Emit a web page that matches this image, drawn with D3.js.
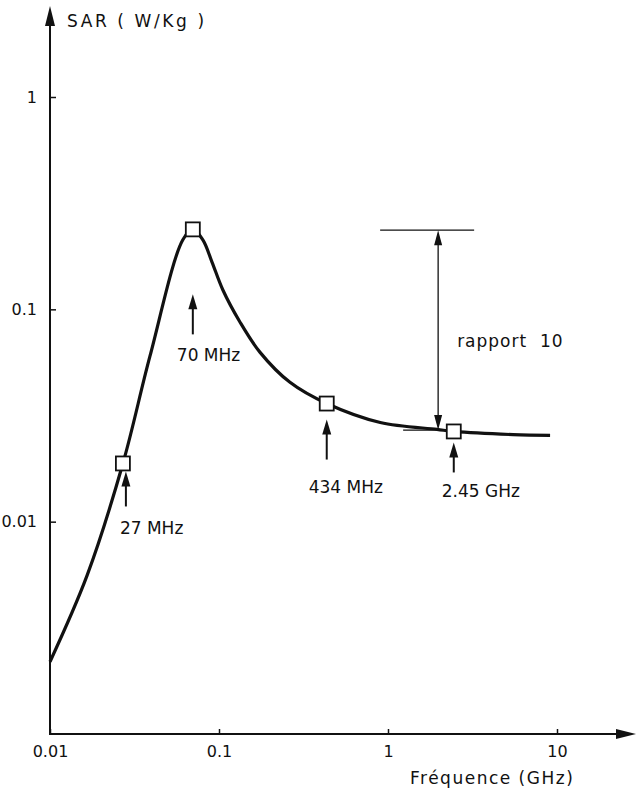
<!DOCTYPE html>
<html>
<head>
<meta charset="utf-8">
<script src="https://cdn.jsdelivr.net/npm/d3@7"></script>
<style>
  body { margin: 0; background: #fff; }
  text { font-family: "DejaVu Sans", sans-serif; fill: #111; }
</style>
</head>
<body>
<script>
// SAR curve (frequency in GHz, SAR in W/Kg)
var freqGHz = [0.01, 0.0166, 0.027, 0.039, 0.061, 0.07, 0.0804, 0.0909, 0.1056, 0.133, 0.175, 0.263, 0.434, 0.9, 1.95, 2.45, 5.5, 9.1];
var sarValues = [0.00219, 0.0056, 0.0188, 0.060, 0.212, 0.238, 0.212, 0.167, 0.123, 0.0872, 0.0627, 0.0453, 0.036, 0.0293, 0.0272, 0.0266, 0.0257, 0.0255];

// marked frequencies
var markerNames = ["27 MHz", "70 MHz", "434 MHz", "2.45 GHz"];
var markerFreq = [0.027, 0.07, 0.434, 2.45];
var markerSar = [0.0188, 0.238, 0.036, 0.0266];

// the "rapport 10" annotation
var ratioFreq = 1.98;
var ratioTop = 0.236;
var ratioBottom = 0.027;
var ratioText = "rapport  10";

var xTickValues = [0.01, 0.1, 1, 10];
var xTickLabels = ["0.01", "0.1", "1", "10"];
var yTickValues = [0.01, 0.1, 1];
var yTickLabels = ["0.01", "0.1", "1"];

var w = 636, h = 798;
var ink = "#111";

var svg = d3.select("body").append("svg").attr("width", w).attr("height", h);

var x = d3.scaleLog().domain([0.01, 10]).range([50, 557]);
var y = d3.scaleLog().domain([0.001, 1]).range([734, 97]);

// axes lines with arrows
svg.append("line").attr("x1", 50).attr("y1", 734).attr("x2", 50).attr("y2", 20)
  .attr("stroke", ink).attr("stroke-width", 2);
svg.append("path").attr("d", "M50,6 L45,26 L55,26 Z").attr("fill", ink);
svg.append("line").attr("x1", 49).attr("y1", 734).attr("x2", 622).attr("y2", 734)
  .attr("stroke", ink).attr("stroke-width", 2);
svg.append("path").attr("d", "M636,734 L616,729 L616,739 Z").attr("fill", ink);

var xAxis = d3.axisBottom(x).tickValues(xTickValues)
  .tickFormat(function(d, i) { return xTickLabels[i]; })
  .tickSize(-5).tickPadding(12);
var gx = svg.append("g").attr("transform", "translate(0,734)").call(xAxis);
gx.select(".domain").remove();
gx.selectAll("line").attr("stroke", ink).attr("stroke-width", 1.5);
gx.selectAll("text").attr("font-size", 16).attr("fill", ink)
  .style("font-family", "DejaVu Sans, sans-serif");

var yAxis = d3.axisLeft(y).tickValues(yTickValues)
  .tickFormat(function(d, i) { return yTickLabels[i]; })
  .tickSize(-6).tickPadding(13);
var gy = svg.append("g").attr("transform", "translate(50,0)").call(yAxis);
gy.select(".domain").remove();
gy.selectAll("line").attr("stroke", ink).attr("stroke-width", 1.5);
gy.selectAll("text").attr("font-size", 16).attr("fill", ink)
  .style("font-family", "DejaVu Sans, sans-serif");

svg.append("text").attr("x", 67).attr("y", 27).attr("font-size", 17)
  .attr("letter-spacing", 2.6).text("SAR ( W/Kg )");
svg.append("text").attr("x", 410).attr("y", 784).attr("font-size", 17)
  .attr("letter-spacing", 1.5).text("Fréquence (GHz)");

// curve
var line = d3.line()
  .x(function(d, i) { return x(freqGHz[i]); })
  .y(function(d) { return y(d); })
  .curve(d3.curveCatmullRom.alpha(0.5));
svg.append("path").datum(sarValues).attr("d", line)
  .attr("fill", "none").attr("stroke", ink).attr("stroke-width", 3.2)
  .attr("stroke-linejoin", "round");

// ratio annotation
var rx = x(ratioFreq);
svg.append("line").attr("x1", rx - 58).attr("x2", rx + 36)
  .attr("y1", y(ratioTop)).attr("y2", y(ratioTop))
  .attr("stroke", ink).attr("stroke-width", 1.3);
svg.append("line").attr("x1", rx - 35).attr("x2", rx + 12)
  .attr("y1", y(ratioBottom)).attr("y2", y(ratioBottom))
  .attr("stroke", ink).attr("stroke-width", 1.3);
svg.append("line").attr("x1", rx).attr("x2", rx)
  .attr("y1", y(ratioTop) + 10).attr("y2", y(ratioBottom) - 10)
  .attr("stroke", ink).attr("stroke-width", 1.3);
svg.append("path").attr("fill", ink)
  .attr("d", "M" + rx + "," + y(ratioTop) + " l-4,15 l8,0 Z");
svg.append("path").attr("fill", ink)
  .attr("d", "M" + rx + "," + y(ratioBottom) + " l-4,-15 l8,0 Z");
svg.append("text").attr("x", rx + 19).attr("y", 347).attr("font-size", 17)
  .attr("letter-spacing", 1).attr("xml:space", "preserve").style("white-space", "pre")
  .text(ratioText);

// arrows below markers: [dx of arrow, tip below marker, length, label dx, label baseline below marker]
var arrowLayout = [
  [3, 8, 35, -3, 71],
  [0, 65, 40, -16, 132],
  [0, 16, 40, -18, 89],
  [0, 11, 30, -12, 66]
];
markerFreq.forEach(function(f, i) {
  var mx = x(f), my = y(markerSar[i]), a = arrowLayout[i];
  var ax = mx + a[0], tip = my + a[1];
  svg.append("line").attr("x1", ax).attr("x2", ax).attr("y1", tip + 10).attr("y2", tip + a[2])
    .attr("stroke", ink).attr("stroke-width", 2);
  svg.append("path").attr("fill", ink)
    .attr("d", "M" + ax + "," + tip + " l-4.5,15 l9,0 Z");
  svg.append("text").attr("x", mx + a[3]).attr("y", my + a[4]).attr("font-size", 17)
    .text(markerNames[i]);
});

svg.selectAll("rect.marker").data(markerFreq).enter().append("rect")
  .attr("class", "marker")
  .attr("x", function(d) { return x(d) - 7; })
  .attr("y", function(d, i) { return y(markerSar[i]) - 7; })
  .attr("width", 14).attr("height", 14)
  .attr("fill", "#fff").attr("stroke", ink).attr("stroke-width", 1.8);
</script>
</body>
</html>
